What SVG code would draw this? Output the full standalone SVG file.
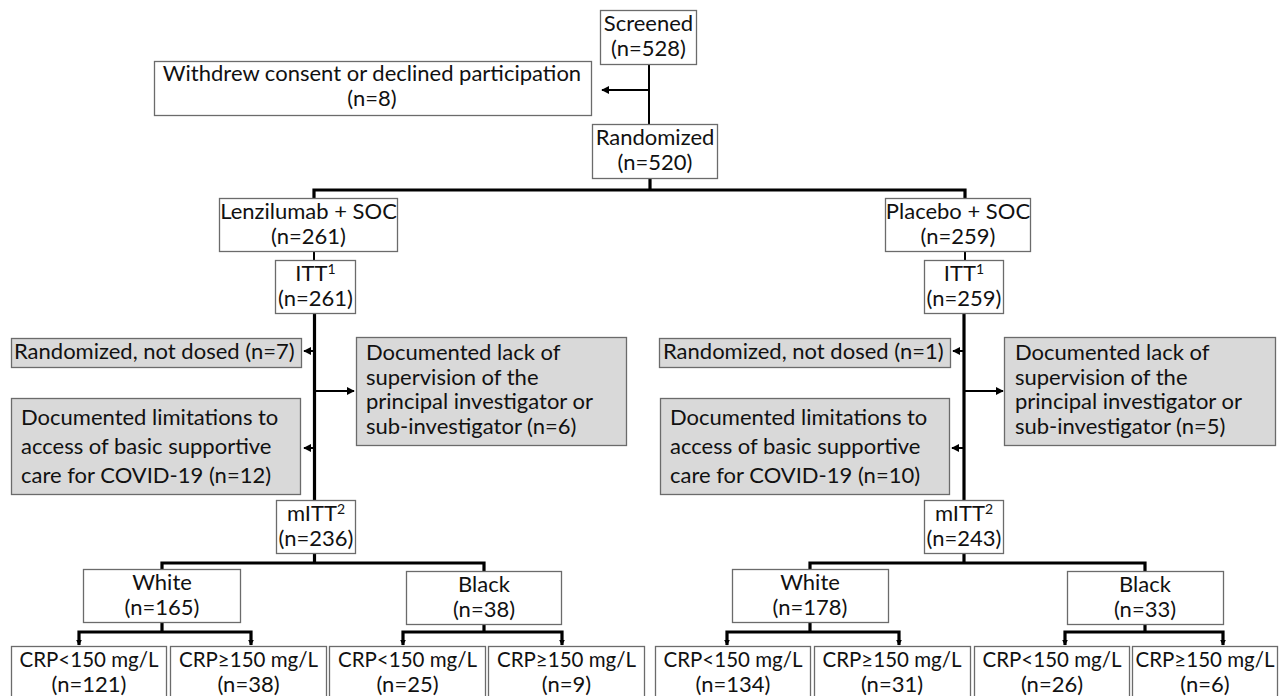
<svg xmlns="http://www.w3.org/2000/svg" width="1280" height="696" viewBox="0 0 1280 696">
<style>
.bx{fill:#ffffff;stroke:#6b6b6b;stroke-width:1.3}
.gb{fill:#d9d9d9;stroke:#6b6b6b;stroke-width:1.3}
text{font-family:Lato,"Open Sans","Liberation Sans",sans-serif;font-size:22px;fill:#111}
.c{text-anchor:middle}
.crp{font-size:20.5px}
.ln{stroke:#000;stroke-width:2;fill:none}
.tk{stroke:#000;stroke-width:3.2;fill:none}
.sup{font-size:14px}
</style>
<defs>
<marker id="ah" viewBox="0 0 10 10" refX="9" refY="5" markerWidth="4" markerHeight="4" orient="auto" markerUnits="strokeWidth">
<path d="M0,0 L10,5 L0,10 z" fill="#000"/>
</marker>
<marker id="ah2" viewBox="0 0 10 10" refX="9" refY="5" markerWidth="3" markerHeight="3" orient="auto" markerUnits="strokeWidth">
<path d="M0,0 L10,5 L0,10 z" fill="#000"/>
</marker>
</defs>
<rect width="1280" height="696" fill="#fff"/>
<g id="connectors">
<path class="ln" d="M649,64 V125"/>
<path class="ln" d="M649,90 H602" marker-end="url(#ah)"/>
<path class="tk" d="M650,178 V190"/>
<path class="tk" d="M314,198 V190 H965 V198"/>
<path class="ln" d="M314,252 V260"/>
<path class="ln" d="M965,252 V260"/>
<path class="tk" d="M314.5,313 V500"/>
<path class="tk" d="M964,313 V500"/>
<path class="ln" d="M314,351 H304" marker-end="url(#ah)"/>
<path class="ln" d="M314,391 H354" marker-end="url(#ah)"/>
<path class="ln" d="M314,448 H304" marker-end="url(#ah)"/>
<path class="ln" d="M964,351 H953" marker-end="url(#ah)"/>
<path class="ln" d="M964,391 H1003" marker-end="url(#ah)"/>
<path class="ln" d="M964,448 H952" marker-end="url(#ah)"/>
<path class="tk" d="M314.5,553 V563"/>
<path class="tk" d="M162,569 V563 H484 V571"/>
<path class="tk" d="M964,553 V563"/>
<path class="tk" d="M810,569 V563 H1145 V571"/>
<path class="tk" d="M162,622 V632"/>
<path class="tk" d="M79,645 V632 H251 V645"/>
<path class="tk" d="M484,624 V632"/>
<path class="tk" d="M403,645 V632 H562 V645"/>
<path class="tk" d="M810,622 V632"/>
<path class="tk" d="M727,645 V632 H899 V645"/>
<path class="tk" d="M1145,624 V632"/>
<path class="tk" d="M1065,645 V632 H1223 V645"/>
<path class="ln" d="M79,640 V645" marker-end="url(#ah2)"/>
<path class="ln" d="M251,640 V645" marker-end="url(#ah2)"/>
<path class="ln" d="M403,640 V645" marker-end="url(#ah2)"/>
<path class="ln" d="M562,640 V645" marker-end="url(#ah2)"/>
<path class="ln" d="M727,640 V645" marker-end="url(#ah2)"/>
<path class="ln" d="M899,640 V645" marker-end="url(#ah2)"/>
<path class="ln" d="M1065,640 V645" marker-end="url(#ah2)"/>
<path class="ln" d="M1223,640 V645" marker-end="url(#ah2)"/>
</g>
<g id="screened"><rect class="bx" x="600.5" y="10.5" width="96" height="54"/><text class="c" x="648.5" y="31">Screened</text><text class="c" x="648.5" y="56">(n=528)</text></g>
<g id="withdrew"><rect class="bx" x="154.5" y="61.5" width="437" height="54"/><text class="c" x="372" y="81">Withdrew consent or declined participation</text><text class="c" x="372" y="106">(n=8)</text></g>
<g id="randomized"><rect class="bx" x="592.5" y="124.5" width="125" height="54"/><text class="c" x="655" y="145">Randomized</text><text class="c" x="655" y="170">(n=520)</text></g>
<g id="lenz"><rect class="bx" x="219.5" y="198.5" width="178" height="53"/><text class="c" x="308.5" y="219">Lenzilumab + SOC</text><text class="c" x="308.5" y="244">(n=261)</text></g>
<g id="placebo"><rect class="bx" x="885.5" y="198.5" width="145" height="53"/><text class="c" x="958" y="219">Placebo + SOC</text><text class="c" x="958" y="244">(n=259)</text></g>
<g id="itt-l"><rect class="bx" x="275.5" y="260.5" width="80" height="53"/><text class="c" x="315.5" y="281">ITT<tspan class="sup" dy="-7">1</tspan></text><text class="c" x="315.5" y="306">(n=261)</text></g>
<g id="itt-r"><rect class="bx" x="924.5" y="260.5" width="79" height="53"/><text class="c" x="964" y="281">ITT<tspan class="sup" dy="-7">1</tspan></text><text class="c" x="964" y="306">(n=259)</text></g>
<g id="notdosed-l"><rect class="gb" x="11.5" y="338.5" width="290" height="29"/><text x="14" y="359">Randomized, not dosed (n=7)</text></g>
<g id="lack-l"><rect class="gb" x="356.5" y="337.5" width="270" height="108"/><text x="366" y="360">Documented lack of</text><text x="366" y="384.5">supervision of the</text><text x="366" y="409">principal investigator or</text><text x="366" y="433.5">sub-investigator (n=6)</text></g>
<g id="limit-l"><rect class="gb" x="11.5" y="398.5" width="289" height="96"/><text x="21" y="425">Documented limitations to</text><text x="21" y="454">access of basic supportive</text><text x="21" y="483">care for COVID-19 (n=12)</text></g>
<g id="notdosed-r"><rect class="gb" x="659.5" y="338.5" width="291" height="29"/><text x="663" y="359">Randomized, not dosed (n=1)</text></g>
<g id="lack-r"><rect class="gb" x="1004.5" y="337.5" width="271" height="108"/><text x="1015" y="360">Documented lack of</text><text x="1015" y="384.5">supervision of the</text><text x="1015" y="409">principal investigator or</text><text x="1015" y="433.5">sub-investigator (n=5)</text></g>
<g id="limit-r"><rect class="gb" x="660.5" y="398.5" width="289" height="96"/><text x="670" y="425">Documented limitations to</text><text x="670" y="454">access of basic supportive</text><text x="670" y="483">care for COVID-19 (n=10)</text></g>
<g id="mitt-l"><rect class="bx" x="276.5" y="500.5" width="79" height="53"/><text class="c" x="316" y="521">mITT<tspan class="sup" dy="-7">2</tspan></text><text class="c" x="316" y="546">(n=236)</text></g>
<g id="mitt-r"><rect class="bx" x="924.5" y="500.5" width="79" height="53"/><text class="c" x="964" y="521">mITT<tspan class="sup" dy="-7">2</tspan></text><text class="c" x="964" y="546">(n=243)</text></g>
<g id="white-l"><rect class="bx" x="83.5" y="569.5" width="157" height="53"/><text class="c" x="162" y="590">White</text><text class="c" x="162" y="615">(n=165)</text></g>
<g id="black-l"><rect class="bx" x="406.5" y="571.5" width="155" height="53"/><text class="c" x="484" y="592">Black</text><text class="c" x="484" y="617">(n=38)</text></g>
<g id="white-r"><rect class="bx" x="732.5" y="569.5" width="156" height="53"/><text class="c" x="810" y="590">White</text><text class="c" x="810" y="615">(n=178)</text></g>
<g id="black-r"><rect class="bx" x="1067.5" y="571.5" width="156" height="53"/><text class="c" x="1145" y="592">Black</text><text class="c" x="1145" y="617">(n=33)</text></g>
<g id="crp1"><rect class="bx" x="11.5" y="646.5" width="155" height="60"/><text class="c crp" x="89" y="667">CRP&lt;150 mg/L</text><text class="c" x="89" y="692">(n=121)</text></g>
<g id="crp2"><rect class="bx" x="170.5" y="646.5" width="156" height="60"/><text class="c crp" x="248.5" y="667">CRP≥150 mg/L</text><text class="c" x="248.5" y="692">(n=38)</text></g>
<g id="crp3"><rect class="bx" x="329.5" y="646.5" width="156" height="60"/><text class="c crp" x="407.5" y="667">CRP&lt;150 mg/L</text><text class="c" x="407.5" y="692">(n=25)</text></g>
<g id="crp4"><rect class="bx" x="488.5" y="646.5" width="156" height="60"/><text class="c crp" x="566.5" y="667">CRP≥150 mg/L</text><text class="c" x="566.5" y="692">(n=9)</text></g>
<g id="crp5"><rect class="bx" x="655.5" y="646.5" width="155" height="60"/><text class="c crp" x="733" y="667">CRP&lt;150 mg/L</text><text class="c" x="733" y="692">(n=134)</text></g>
<g id="crp6"><rect class="bx" x="814.5" y="646.5" width="156" height="60"/><text class="c crp" x="892" y="667">CRP≥150 mg/L</text><text class="c" x="892" y="692">(n=31)</text></g>
<g id="crp7"><rect class="bx" x="974.5" y="646.5" width="155" height="60"/><text class="c crp" x="1052" y="667">CRP&lt;150 mg/L</text><text class="c" x="1052" y="692">(n=26)</text></g>
<g id="crp8"><rect class="bx" x="1132.5" y="646.5" width="145" height="60"/><text class="c crp" x="1205" y="667">CRP≥150 mg/L</text><text class="c" x="1205" y="692">(n=6)</text></g>
</svg>
